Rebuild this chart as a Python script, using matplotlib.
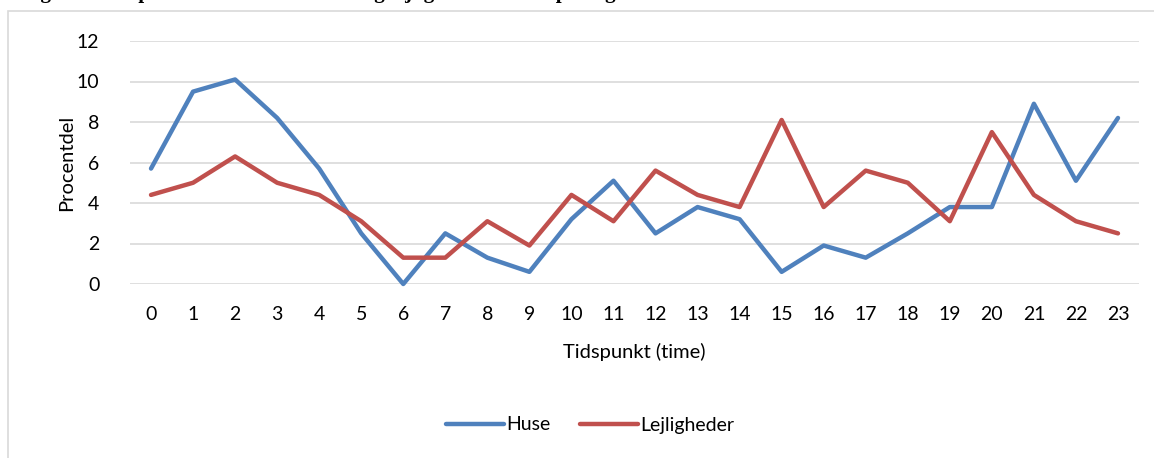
import matplotlib.pyplot as plt
from matplotlib.patches import Rectangle

hours = list(range(24))
huse = [5.7, 9.5, 10.1, 8.2, 5.7, 2.5, 0.0, 2.5, 1.3, 0.6, 3.2, 5.1,
        2.5, 3.8, 3.2, 0.6, 1.9, 1.3, 2.5, 3.8, 3.8, 8.9, 5.1, 8.2]
lejl = [4.4, 5.0, 6.3, 5.0, 4.4, 3.1, 1.3, 1.3, 3.1, 1.9, 4.4, 3.1,
        5.6, 4.4, 3.8, 8.1, 3.8, 5.6, 5.0, 3.1, 7.5, 4.4, 3.1, 2.5]
yticks = [0, 2, 4, 6, 8, 10, 12]

W, H = 1154, 458
plt.rcParams['font.family'] = ['Lato', 'DejaVu Sans']
fig = plt.figure(figsize=(W / 100, H / 100), dpi=100)

# chart frame (partly outside the picture)
fig.patches.append(Rectangle((8 / W, -0.1), 1.2, (H - 11) / H + 0.1,
                             transform=fig.transFigure, fill=False,
                             edgecolor='#D9D9D9', lw=1.2))

# title, cut off at the top like in the source
fig.text(22 / W, 1 + 7 / H, 'Figur 3: Tidspunkt for indbrud i huse og lejligheder fordelt på døgnets timer',
         family='Liberation Serif', fontweight='bold', fontsize=15,
         va='center', ha='left')

ax = fig.add_axes([130 / W, (H - 284) / H, (1139 - 130) / W, (284 - 41) / H])
ax.plot(hours, huse, color='#4F81BD', lw=3.2, label='Huse', solid_capstyle='round')
ax.plot(hours, lejl, color='#C0504D', lw=3.2, label='Lejligheder', solid_capstyle='round')

ax.set_xlim(-0.5, 23.5)
ax.set_ylim(0, 12)
ax.set_xticks(hours)
ax.set_yticks(yticks)
ax.tick_params(length=0, labelsize=14)
ax.tick_params(axis='x', pad=16)
ax.tick_params(axis='y', pad=22)
ax.grid(axis='y', color='#D9D9D9', lw=1.2)
ax.set_axisbelow(True)
for s in ax.spines.values():
    s.set_visible(False)
for ln in ax.lines:
    ln.set_clip_on(False)

ax.set_xlabel('Tidspunkt (time)', fontsize=14.5, labelpad=14)
ax.set_ylabel('Procentdel', fontsize=14.5, labelpad=1)

fig.legend(loc='center', bbox_to_anchor=(590 / W, 1 - 425 / H), ncol=2,
           frameon=False, fontsize=14, handlelength=3, handletextpad=0.1,
           columnspacing=1.5)

fig.savefig('out.png', dpi=100)
